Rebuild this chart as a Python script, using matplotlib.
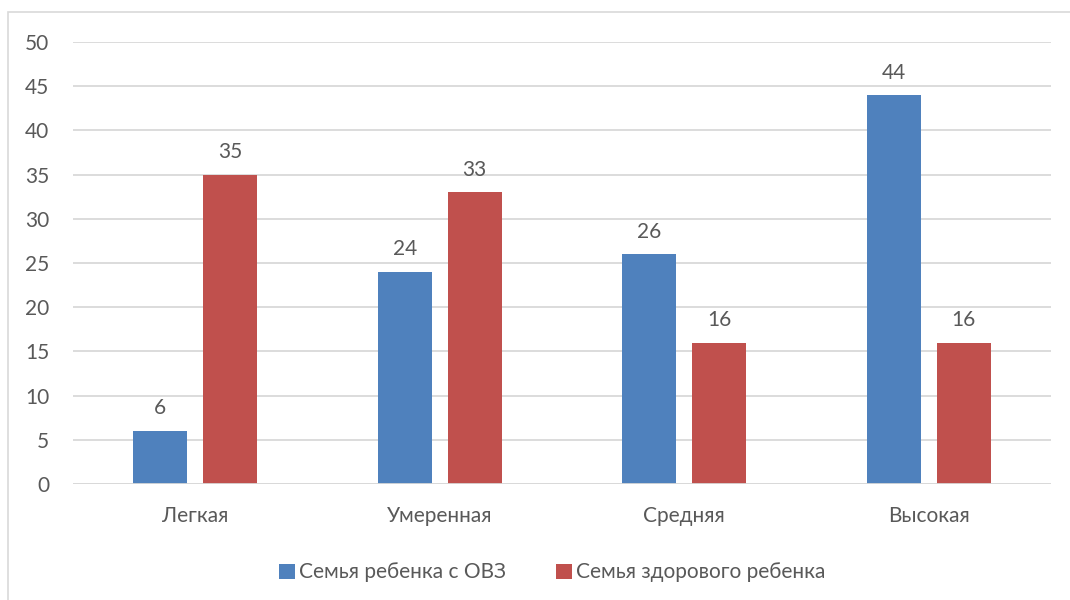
import numpy as np
import matplotlib
matplotlib.use('Agg')
import matplotlib.pyplot as plt
from matplotlib.patches import Rectangle

plt.rcParams['font.family'] = ['Lato', 'DejaVu Sans']

# Data
categories = ['Легкая', 'Умеренная', 'Средняя', 'Высокая']
ovz = [6, 24, 26, 44]
healthy = [35, 33, 16, 16]
series_names = ['Семья ребенка с ОВЗ', 'Семья здорового ребенка']

c_blue = '#4f81bd'
c_red = '#c0504d'
grid_c = '#d9d9d9'
txt_c = '#595959'
fs = 15

fig = plt.figure(figsize=(10.7, 6), dpi=100)
# outer chart frame
fig.patches.append(Rectangle((8/1070, -0.1), 1.2, (600-12)/600 + 0.1,
                             transform=fig.transFigure, fill=False,
                             edgecolor=grid_c, lw=1.2))

ax = fig.add_axes([73/1070, (600-484)/600, (1051-73)/1070, (484-42)/600])

x = np.arange(len(categories))
w = 0.22
off = 0.143
b1 = ax.bar(x - off, ovz, w, color=c_blue, label=series_names[0], zorder=3)
b2 = ax.bar(x + off, healthy, w, color=c_red, label=series_names[1], zorder=3)

for bars, vals in ((b1, ovz), (b2, healthy)):
    for r, v in zip(bars, vals):
        ax.annotate(str(v), (r.get_x() + r.get_width()/2, v),
                    xytext=(0, 9), textcoords='offset points',
                    ha='center', va='bottom', fontsize=fs, color=txt_c)

ax.set_xlim(-0.5, 3.5)
ax.set_ylim(0, 50)
ax.set_yticks(range(0, 51, 5))
ax.set_xticks(x)
ax.set_xticklabels(categories)
ax.grid(axis='y', color=grid_c, lw=1.3, zorder=0)
ax.axhline(0, color=grid_c, lw=2, zorder=4)
for s in ax.spines.values():
    s.set_visible(False)
ax.tick_params(length=0, labelsize=fs, colors=txt_c)
ax.tick_params(axis='y', pad=17)
ax.tick_params(axis='x', pad=16)

leg = ax.legend(loc='center', bbox_to_anchor=(0.49, -0.2), ncol=2,
                frameon=False, fontsize=fs, handlelength=0.75,
                handleheight=0.75, handletextpad=0.2, columnspacing=2.4)
for t in leg.get_texts():
    t.set_color(txt_c)

fig.savefig('out.png', dpi=100)
